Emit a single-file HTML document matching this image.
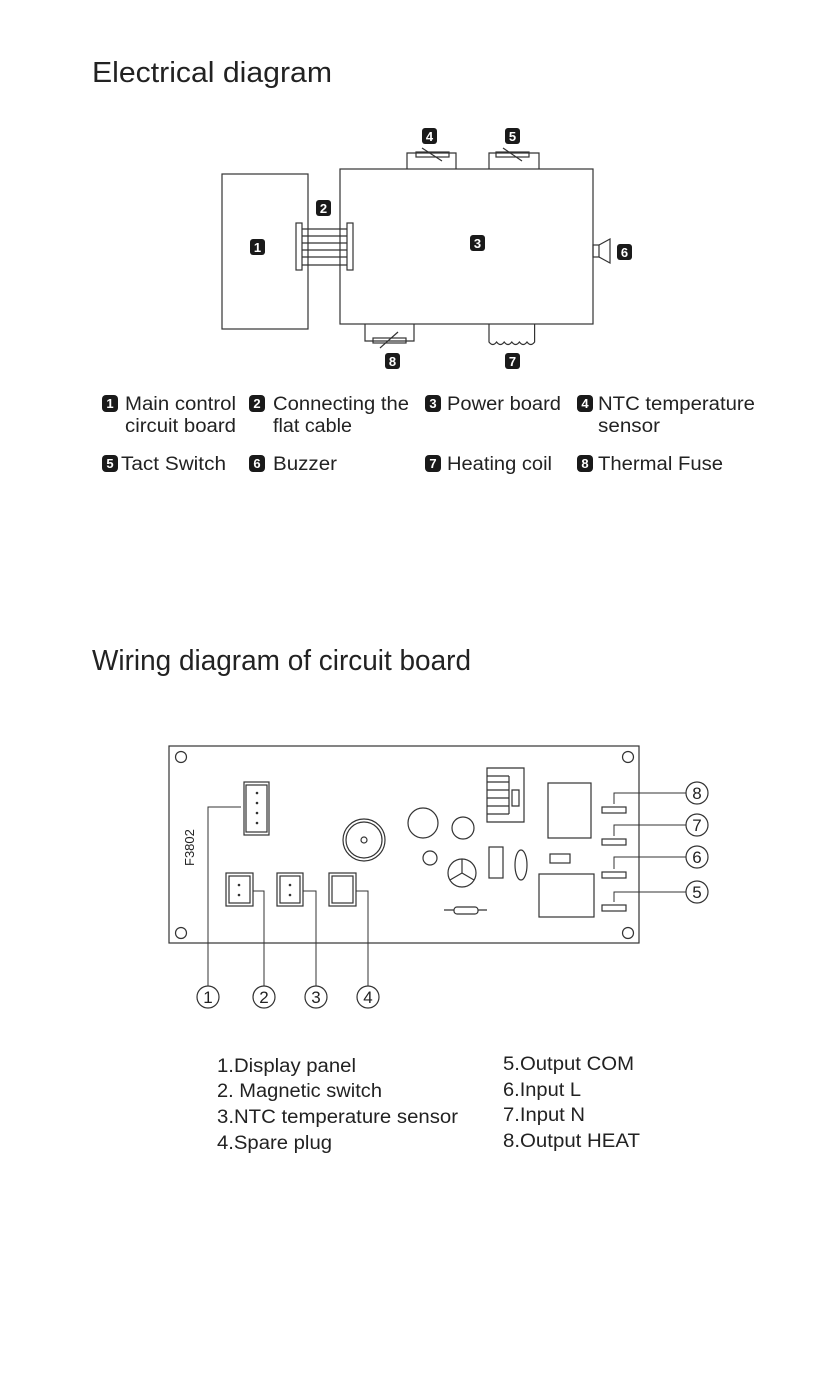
<!DOCTYPE html>
<html><head><meta charset="utf-8"><style>
html,body{margin:0;padding:0;background:#fff}
svg{display:block}
text{font-family:"Liberation Sans",sans-serif;fill:#222}
.b{fill:#1a1a1a}
.bt{fill:#fff;font-weight:bold;font-size:13px;text-anchor:middle}
.l{font-size:19px}
.n{font-size:17px;text-anchor:middle}
</style></head><body>
<svg width="827" height="1377" viewBox="0 0 827 1377" xmlns="http://www.w3.org/2000/svg">
<text x="92" y="82" font-size="29" textLength="240" lengthAdjust="spacingAndGlyphs">Electrical diagram</text>
<g fill="none" stroke="#333" stroke-width="1.2">
<rect x="222" y="174" width="86" height="155"/>
<rect x="340" y="169" width="253" height="155"/>
<rect x="296" y="223" width="6" height="47"/>
<rect x="347" y="223" width="6" height="47"/>
<path d="M302 229H347M302 236H347M302 243H347M302 250H347M302 257H347M302 265H347"/>
<path d="M407 169V153H456V169M489 169V153H539V169"/>
<rect x="416" y="152" width="33" height="5"/><path d="M422 148L442 161"/>
<rect x="496" y="152" width="33" height="5"/><path d="M503 148L522 161"/>
<path d="M365 324V341H414V324"/>
<rect x="373" y="338" width="33" height="5"/><path d="M380 348L398 332"/>
<path d="M489 324V342 q3.8 5 7.6 0 q3.8 5 7.6 0 q3.8 5 7.6 0 q3.8 5 7.6 0 q3.8 5 7.6 0 q3.8 5 7.6 0V324"/>
<rect x="593" y="245" width="6" height="12"/><path d="M599 245L610 239V263L599 257"/>
</g>
<g>
<rect class="b" x="250" y="239" width="15" height="16" rx="3"/><text class="bt" x="257.5" y="252">1</text>
<rect class="b" x="316" y="200" width="15" height="16" rx="3"/><text class="bt" x="323.5" y="213">2</text>
<rect class="b" x="470" y="235" width="15" height="16" rx="3"/><text class="bt" x="477.5" y="248">3</text>
<rect class="b" x="422" y="128" width="15" height="16" rx="3"/><text class="bt" x="429.5" y="141">4</text>
<rect class="b" x="505" y="128" width="15" height="16" rx="3"/><text class="bt" x="512.5" y="141">5</text>
<rect class="b" x="617" y="244" width="15" height="16" rx="3"/><text class="bt" x="624.5" y="257">6</text>
<rect class="b" x="505" y="353" width="15" height="16" rx="3"/><text class="bt" x="512.5" y="366">7</text>
<rect class="b" x="385" y="353" width="15" height="16" rx="3"/><text class="bt" x="392.5" y="366">8</text>
</g>
<!-- legend -->
<g>
<rect class="b" x="102" y="395" width="16" height="17" rx="4"/><text class="bt" x="110" y="408">1</text>
<rect class="b" x="249" y="395" width="16" height="17" rx="4"/><text class="bt" x="257" y="408">2</text>
<rect class="b" x="425" y="395" width="16" height="17" rx="4"/><text class="bt" x="433" y="408">3</text>
<rect class="b" x="577" y="395" width="16" height="17" rx="4"/><text class="bt" x="585" y="408">4</text>
<rect class="b" x="102" y="455" width="16" height="17" rx="4"/><text class="bt" x="110" y="468">5</text>
<rect class="b" x="249" y="455" width="16" height="17" rx="4"/><text class="bt" x="257" y="468">6</text>
<rect class="b" x="425" y="455" width="16" height="17" rx="4"/><text class="bt" x="433" y="468">7</text>
<rect class="b" x="577" y="455" width="16" height="17" rx="4"/><text class="bt" x="585" y="468">8</text>
<text class="l" x="125" y="410" textLength="111" lengthAdjust="spacingAndGlyphs">Main control</text>
<text class="l" x="125" y="432" textLength="111" lengthAdjust="spacingAndGlyphs">circuit board</text>
<text class="l" x="273" y="410" textLength="136" lengthAdjust="spacingAndGlyphs">Connecting the</text>
<text class="l" x="273" y="432" textLength="79" lengthAdjust="spacingAndGlyphs">flat cable</text>
<text class="l" x="447" y="410" textLength="114" lengthAdjust="spacingAndGlyphs">Power board</text>
<text class="l" x="598" y="410" textLength="157" lengthAdjust="spacingAndGlyphs">NTC temperature</text>
<text class="l" x="598" y="432" textLength="62" lengthAdjust="spacingAndGlyphs">sensor</text>
<text class="l" x="121" y="470" textLength="105" lengthAdjust="spacingAndGlyphs">Tact Switch</text>
<text class="l" x="273" y="470" textLength="64" lengthAdjust="spacingAndGlyphs">Buzzer</text>
<text class="l" x="447" y="470" textLength="105" lengthAdjust="spacingAndGlyphs">Heating coil</text>
<text class="l" x="598" y="470" textLength="125" lengthAdjust="spacingAndGlyphs">Thermal Fuse</text>
</g>
<text x="92" y="670" font-size="29" textLength="379" lengthAdjust="spacingAndGlyphs">Wiring diagram of circuit board</text>
<!-- PCB -->
<g fill="none" stroke="#333" stroke-width="1.2">
<rect x="169" y="746" width="470" height="197"/>
<circle cx="181" cy="757" r="5.5"/><circle cx="628" cy="757" r="5.5"/>
<circle cx="181" cy="933" r="5.5"/><circle cx="628" cy="933" r="5.5"/>
<rect x="244" y="782" width="25" height="53"/><rect x="246" y="785" width="21" height="47"/>
<rect x="226" y="873" width="27" height="33"/><rect x="229" y="876" width="21" height="27"/>
<rect x="277" y="873" width="26" height="33"/><rect x="280" y="876" width="20" height="27"/>
<rect x="329" y="873" width="27" height="33"/><rect x="332" y="876" width="21" height="27"/>
<path d="M241 807H208V986M253 891H264V986M303 891H316V986M356 891H368V986" stroke-width="1"/>
<circle cx="208" cy="997" r="11"/><circle cx="264" cy="997" r="11"/><circle cx="316" cy="997" r="11"/><circle cx="368" cy="997" r="11"/>
<circle cx="364" cy="840" r="21"/><circle cx="364" cy="840" r="18"/><circle cx="364" cy="840" r="3"/>
<circle cx="423" cy="823" r="15"/><circle cx="463" cy="828" r="11"/><circle cx="430" cy="858" r="7"/>
<circle cx="462" cy="873" r="14"/><path d="M462 873V859M462 873L450 880M462 873L474 880"/>
<path d="M497 768H487V776H509M487 776V782H509M487 782V790H509M487 790V798H509M487 798V806H509M487 806V814H509M487 814V822H524V768H497M509 776V814 M512 790H519V806H512Z"/>
<rect x="489" y="847" width="14" height="31"/>
<ellipse cx="521" cy="865" rx="6" ry="15"/>
<rect x="550" y="854" width="20" height="9"/>
<path d="M444 910H454M478 910H487"/><rect x="454" y="907" width="24" height="7" rx="3"/>
<rect x="548" y="783" width="43" height="55"/>
<rect x="539" y="874" width="55" height="43"/>
<rect x="602" y="807" width="24" height="6"/><rect x="602" y="839" width="24" height="6"/>
<rect x="602" y="872" width="24" height="6"/><rect x="602" y="905" width="24" height="6"/>
<path d="M614 804V793H686M614 836V825H686M614 869V857H686M614 902V892H686" stroke-width="1"/>
<circle cx="697" cy="793" r="11"/><circle cx="697" cy="825" r="11"/><circle cx="697" cy="857" r="11"/><circle cx="697" cy="892" r="11"/>
</g>
<g fill="#333" font-size="8">
<circle cx="257" cy="793" r="1.3"/><circle cx="257" cy="803" r="1.3"/><circle cx="257" cy="813" r="1.3"/><circle cx="257" cy="823" r="1.3"/>
<circle cx="239" cy="885" r="1.3"/><circle cx="239" cy="895" r="1.3"/>
<circle cx="290" cy="885" r="1.3"/><circle cx="290" cy="895" r="1.3"/>
</g>
<text x="0" y="0" font-size="13" transform="translate(194,866) rotate(-90)">F3802</text>
<text class="n" x="208" y="1003">1</text><text class="n" x="264" y="1003">2</text><text class="n" x="316" y="1003">3</text><text class="n" x="368" y="1003">4</text>
<text class="n" x="697" y="799">8</text><text class="n" x="697" y="831">7</text><text class="n" x="697" y="863">6</text><text class="n" x="697" y="898">5</text>
<g class="l">
<text class="l" x="217" y="1072" textLength="139" lengthAdjust="spacingAndGlyphs">1.Display panel</text>
<text class="l" x="217" y="1097" textLength="165" lengthAdjust="spacingAndGlyphs">2. Magnetic switch</text>
<text class="l" x="217" y="1123" textLength="241" lengthAdjust="spacingAndGlyphs">3.NTC temperature sensor</text>
<text class="l" x="217" y="1149" textLength="115" lengthAdjust="spacingAndGlyphs">4.Spare plug</text>
<text class="l" x="503" y="1070" textLength="131" lengthAdjust="spacingAndGlyphs">5.Output COM</text>
<text class="l" x="503" y="1096" textLength="78" lengthAdjust="spacingAndGlyphs">6.Input L</text>
<text class="l" x="503" y="1121" textLength="82" lengthAdjust="spacingAndGlyphs">7.Input N</text>
<text class="l" x="503" y="1147" textLength="137" lengthAdjust="spacingAndGlyphs">8.Output HEAT</text>
</g>
</svg>
</body></html>
